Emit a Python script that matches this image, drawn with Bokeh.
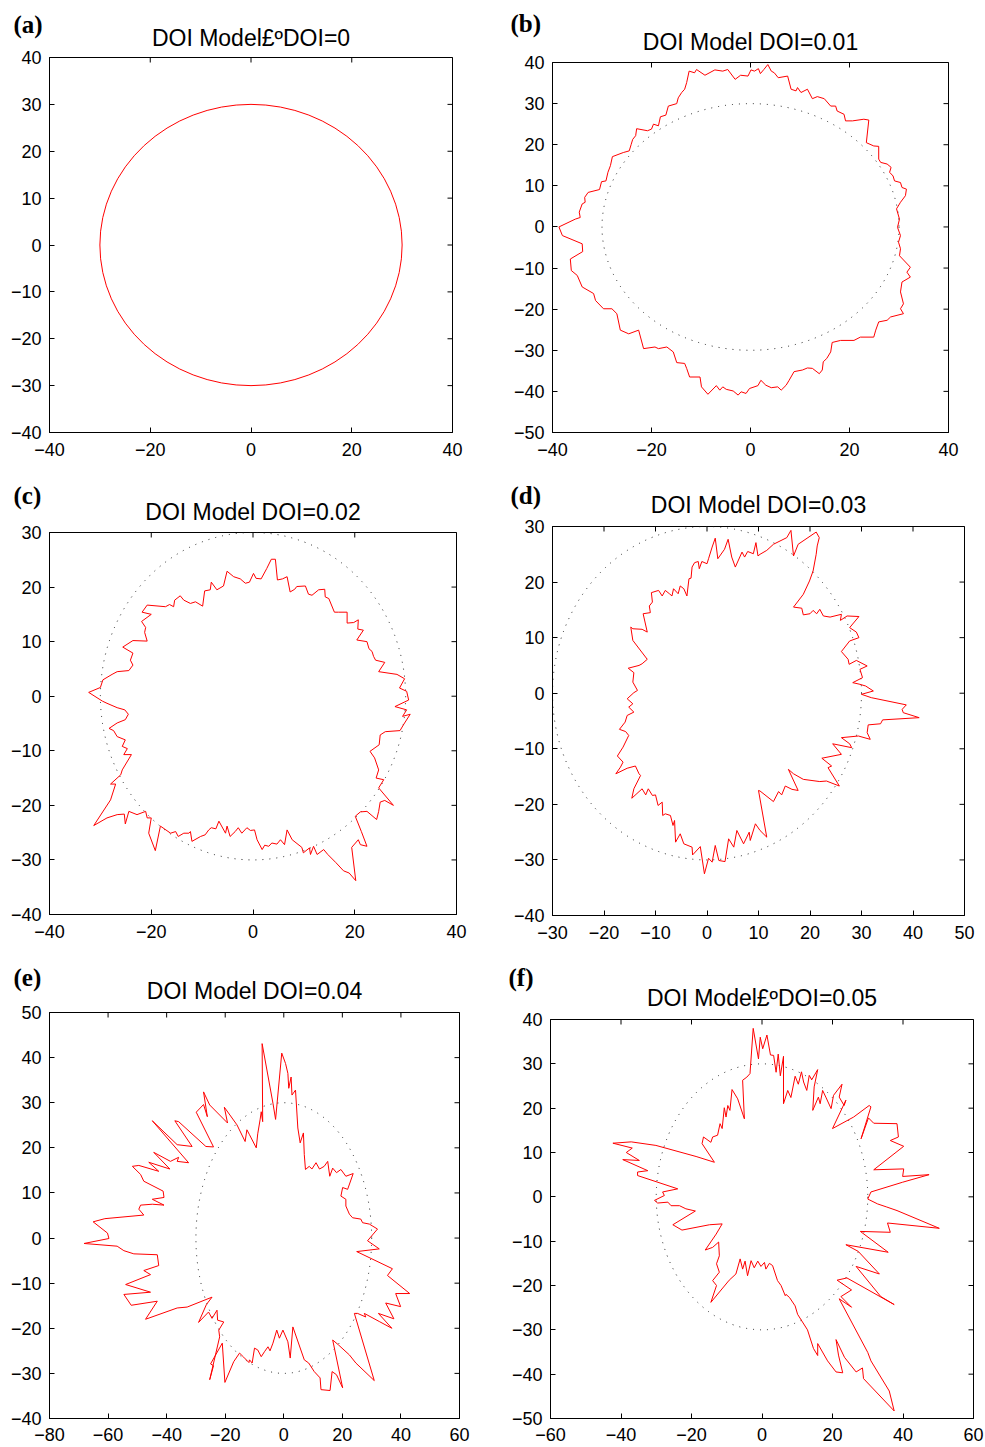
import math
from bokeh.plotting import figure
from bokeh.layouts import column, row
from bokeh.models import FixedTicker, Range1d, Title
from bokeh.embed import file_html
from bokeh.resources import INLINE

# ---------------- data ----------------
REF_RADIUS = 30  # reference circle (r = 30)

TITLES = ["DOI Model\u00a3\u00baDOI=0", "DOI Model DOI=0.01", "DOI Model DOI=0.02",
          "DOI Model DOI=0.03", "DOI Model DOI=0.04", "DOI Model\u00a3\u00baDOI=0.05"]
TAGS = ["(a)", "(b)", "(c)", "(d)", "(e)", "(f)"]

XTICKS_A = [-40, -20, 0, 20, 40]
YTICKS_A = [-40, -30, -20, -10, 0, 10, 20, 30, 40]
XTICKS_B = [-40, -20, 0, 20, 40]
YTICKS_B = [-50, -40, -30, -20, -10, 0, 10, 20, 30, 40]
XTICKS_C = [-40, -20, 0, 20, 40]
YTICKS_C = [-40, -30, -20, -10, 0, 10, 20, 30]
XTICKS_D = [-30, -20, -10, 0, 10, 20, 30, 40, 50]
YTICKS_D = [-40, -30, -20, -10, 0, 10, 20, 30]
XTICKS_E = [-80, -60, -40, -20, 0, 20, 40, 60]
YTICKS_E = [-40, -30, -20, -10, 0, 10, 20, 30, 40, 50]
XTICKS_F = [-60, -40, -20, 0, 20, 40, 60]
YTICKS_F = [-50, -40, -30, -20, -10, 0, 10, 20, 30, 40]

# DOI = 0.01
B_X = [-38.7, -35.4, -34.4, -34.6, -34.0, -33.4, -33.5, -32.8, -30.5, -30.1, -29.2, -28.8, -28.3, -27.9,
       -25.7, -24.5, -24.1, -23.8, -23.2, -23.0, -20.8, -20.0, -19.6, -18.6, -18.2, -17.1, -16.6, -14.9,
       -14.6, -13.9, -13.3, -12.9, -12.4, -11.3, -10.9, -9.2, -7.2, -5.6, -4.6, -3.1, -2.0, -0.5, 0.1,
       0.8, 1.6, 2.0, 2.7, 3.5, 4.2, 4.8, 5.6, 7.5, 8.2, 9.2, 9.5, 10.2, 11.5, 12.5, 13.5, 14.9, 16.2,
       17.2, 17.5, 18.9, 19.2, 20.6, 22.9, 23.9, 23.4, 24.9, 25.9, 25.9, 26.3, 27.6, 28.4, 28.1, 28.8,
       29.1, 30.3, 30.6, 31.5, 31.3, 30.3, 29.5, 30.1, 29.7, 30.3, 29.9, 30.3, 30.1, 32.3, 31.6, 32.3,
       30.6, 30.3, 30.9, 30.3, 30.9, 28.3, 27.6, 25.9, 25.3, 24.9, 22.2, 20.9, 18.2, 16.5, 16.2, 15.4,
       14.7, 14.5, 13.9, 12.5, 11.5, 10.5, 8.8, 7.8, 7.2, 6.2, 5.5, 4.2, 3.1, 2.1, 1.5, -0.2, -0.9, -1.9,
       -2.5, -3.5, -4.9, -5.6, -6.2, -6.9, -8.6, -9.9, -10.2, -12.3, -12.9, -13.3, -14.9, -15.6, -16.9,
       -18.6, -19.3, -21.6, -22.6, -24.6, -26.3, -27.0, -28.0, -29.7, -31.3, -31.7, -34.0, -35.0, -36.2,
       -36.4, -33.9, -34.0, -38.0]
B_Y = [0.0, 1.9, 2.3, 3.6, 5.6, 6.0, 7.2, 8.4, 9.1, 11.0, 11.2, 13.3, 14.9, 17.1, 18.1, 18.5, 20.1, 21.3,
       22.2, 23.9, 23.4, 23.8, 25.0, 24.6, 26.8, 27.2, 29.4, 30.0, 31.4, 32.7, 33.5, 35.1, 37.9, 37.5,
       38.3, 36.9, 38.2, 37.9, 38.3, 35.9, 36.9, 36.7, 38.2, 37.9, 38.5, 37.3, 38.3, 39.5, 37.9, 37.5,
       36.3, 36.7, 33.5, 33.1, 33.9, 32.7, 33.5, 31.2, 31.7, 31.2, 29.4, 29.4, 28.2, 27.4, 25.8, 25.8,
       26.2, 26.0, 20.5, 19.7, 19.6, 16.5, 15.7, 15.3, 14.5, 13.3, 12.4, 11.2, 10.8, 9.6, 9.2, 7.6, 6.0,
       4.4, 1.9, -0.1, -2.1, -3.7, -5.3, -7.0, -9.8, -11.0, -12.2, -13.4, -15.8, -18.7, -19.9, -21.1,
       -21.9, -22.7, -23.1, -25.1, -26.8, -26.8, -27.6, -27.6, -28.1, -30.4, -32.0, -32.8, -34.8, -35.7,
       -34.4, -34.3, -34.8, -35.2, -37.3, -38.5, -39.7, -38.9, -39.1, -38.5, -37.3, -38.6, -39.3, -40.5,
       -40.1, -40.9, -39.9, -39.5, -38.9, -39.7, -38.6, -40.7, -38.9, -36.5, -36.5, -34.4, -33.2, -33.0,
       -30.4, -29.2, -29.6, -29.2, -29.6, -25.1, -26.0, -25.1, -21.1, -19.9, -19.9, -17.9, -16.2, -14.6,
       -11.8, -10.6, -7.8, -6.0, -4.1, -2.1]

# DOI = 0.02
C_X = [-32.3, -30.0, -29.5, -27.7, -26.7, -24.4, -23.6, -24.1, -23.6, -25.6, -23.6, -20.8, -21.3, -21.1,
       -21.9, -20.0, -21.8, -20.8, -17.2, -16.4, -15.6, -15.4, -14.3, -13.6, -12.3, -11.3, -9.9, -9.5,
       -8.4, -8.2, -7.1, -5.8, -5.1, -3.8, -2.5, -1.5, -0.7, 0.1, 0.6, 1.6, 2.7, 3.6, 4.4, 4.8, 5.8, 6.7,
       7.3, 8.2, 8.6, 10.3, 10.9, 11.6, 12.9, 14.1, 14.2, 14.9, 16.0, 16.8, 18.5, 18.5, 19.8, 20.7, 20.6,
       21.7, 20.4, 22.4, 22.8, 23.4, 23.7, 24.1, 25.9, 24.7, 28.3, 29.8, 28.8, 30.2, 30.6, 27.9, 30.2,
       29.4, 30.9, 29.6, 28.9, 26.0, 25.0, 24.8, 23.0, 23.9, 24.7, 24.2, 25.7, 24.7, 27.6, 25.9, 25.0,
       24.7, 24.3, 22.4, 21.1, 20.1, 21.3, 22.4, 21.1, 20.7, 19.4, 20.2, 18.9, 17.8, 16.3, 14.7, 13.9,
       12.6, 11.9, 11.3, 11.1, 9.9, 9.6, 7.7, 6.7, 6.2, 5.4, 4.7, 3.7, 3.1, 2.3, 1.8, 0.8, 0.3, -0.5,
       -1.2, -1.6, -2.2, -2.9, -3.5, -4.5, -5.1, -5.4, -6.7, -7.3, -8.2, -8.7, -9.4, -10.3, -12.0, -12.3,
       -12.6, -13.6, -14.7, -15.2, -16.2, -18.2, -19.2, -20.5, -20.0, -20.8, -21.1, -22.8, -24.4, -25.1,
       -25.3, -26.7, -28.7, -31.3, -28.0, -27.0, -28.0, -26.0, -25.7, -23.9, -25.4, -24.7, -25.7, -25.1,
       -26.7, -27.4, -28.3, -26.7, -25.1, -24.5, -25.2, -26.7, -28.7, -29.6]
C_Y = [0.7, 1.6, 3.0, 4.0, 4.5, 4.7, 5.7, 6.6, 7.9, 9.0, 10.2, 10.1, 11.7, 12.6, 13.7, 15.0, 15.4, 16.7,
       16.4, 16.8, 16.4, 17.6, 18.4, 17.6, 17.0, 17.3, 16.5, 19.3, 19.5, 20.9, 19.5, 20.2, 22.9, 21.9,
       21.5, 20.7, 20.9, 22.5, 21.6, 21.5, 23.4, 25.1, 25.1, 21.3, 21.5, 21.9, 19.1, 19.6, 20.1, 20.2,
       18.7, 18.5, 19.5, 19.6, 18.2, 17.9, 15.4, 15.4, 15.4, 13.4, 13.5, 14.0, 12.3, 12.1, 10.3, 10.0,
       8.7, 8.2, 7.3, 6.6, 6.2, 4.5, 4.0, 3.2, 1.5, 0.9, -0.7, -1.9, -2.5, -3.7, -3.3, -5.2, -6.3, -6.5,
       -7.1, -8.9, -10.1, -11.3, -13.5, -15.0, -15.3, -16.8, -20.0, -19.1, -19.4, -21.1, -22.6, -21.1,
       -21.2, -22.0, -24.8, -27.5, -27.2, -26.3, -27.7, -33.8, -32.4, -32.0, -30.5, -29.0, -28.1, -29.0,
       -27.5, -29.0, -27.8, -28.7, -27.7, -26.3, -24.5, -27.2, -26.3, -27.1, -26.9, -27.5, -27.3, -28.1,
       -26.3, -24.5, -24.6, -24.1, -24.5, -25.1, -24.1, -24.8, -25.7, -23.8, -25.1, -22.9, -24.3, -24.1,
       -24.5, -25.4, -25.7, -26.6, -24.8, -25.1, -25.1, -25.7, -24.8, -25.1, -23.8, -28.3, -25.1, -22.3,
       -22.3, -21.1, -21.7, -21.1, -23.4, -21.6, -21.7, -22.3, -23.7, -19.0, -16.1, -16.1, -14.4, -13.5,
       -10.7, -10.7, -9.6, -9.2, -8.0, -7.4, -6.3, -5.9, -4.9, -4.3, -3.3, -2.5, -2.1, -1.3, -0.9]

# DOI = 0.03
D_X = [10.3, 12.9, 13.9, 14.5, 15.2, 16.5, 17.7, 15.8, 16.8, 18.7, 21.9, 23.2, 25.7, 23.5, 24.2, 22.3,
       26.1, 24.4, 28.1, 27.7, 26.1, 29.4, 31.7, 31.1, 31.3, 33.7, 34.1, 41.2, 38.1, 37.9, 38.7, 31.9,
       30.0, 32.3, 30.8, 29.7, 28.3, 30.2, 29.7, 31.1, 29.0, 27.6, 27.4, 26.1, 27.7, 29.5, 29.0, 27.7,
       29.5, 27.2, 25.9, 26.1, 23.9, 22.6, 21.9, 21.3, 20.6, 20.0, 18.7, 18.4, 16.8, 18.7, 19.9, 20.6,
       21.2, 21.4, 21.8, 21.2, 17.7, 16.8, 16.3, 15.5, 12.9, 11.6, 10.3, 9.9, 9.5, 9.0, 7.9, 7.3, 6.8,
       5.5, 4.8, 4.1, 3.4, 2.1, 1.6, 1.0, 0.3, 0.0, -1.0, -1.5, -1.7, -2.4, -2.9, -3.1, -3.5, -3.9, -4.5,
       -5.2, -5.6, -6.5, -6.8, -7.3, -8.1, -8.7, -9.4, -10.8, -10.6, -11.2, -11.0, -12.4, -11.6, -12.6,
       -14.4, -14.8, -14.4, -11.6, -12.6, -13.2, -15.3, -14.2, -14.4, -13.5, -14.2, -15.5, -14.4, -15.2,
       -14.2, -15.5, -15.9, -17.0, -15.8, -15.2, -16.3, -17.4, -16.3, -16.8, -17.7, -15.5, -13.9, -13.2,
       -12.9, -14.2, -14.6, -12.6, -11.9, -11.4, -10.6, -10.0, -9.5, -8.7, -8.6, -8.1, -7.1, -6.6, -6.3,
       -6.1, -5.2, -4.5, -2.9, -2.8, -1.3, -0.5, 0.3, 1.0, 1.6, 2.3, 3.5, 4.2, 5.2, 5.8, 7.1, 8.2, 8.4,
       9.4, 10.3, 11.6, 10.0]
D_Y = [-17.6, -19.5, -17.7, -18.3, -16.7, -17.3, -17.5, -13.7, -14.5, -15.5, -15.9, -15.8, -16.7, -13.4,
       -13.1, -11.7, -11.0, -9.1, -9.8, -9.1, -8.0, -7.7, -8.3, -7.1, -5.7, -5.5, -4.8, -4.4, -3.5, -2.9,
       -2.1, -0.8, -0.2, 0.4, 1.3, 1.6, 1.9, 2.8, 4.3, 4.9, 5.9, 5.2, 6.1, 7.5, 9.4, 10.0, 11.0, 11.8,
       13.8, 13.9, 13.1, 14.2, 13.7, 13.9, 15.1, 14.3, 14.9, 14.3, 14.1, 15.3, 15.5, 17.8, 20.2, 22.0,
       25.0, 26.5, 28.0, 29.0, 26.8, 24.7, 29.3, 28.0, 26.8, 25.7, 25.0, 24.7, 27.1, 25.1, 25.5, 24.5,
       25.4, 22.7, 24.5, 27.7, 25.9, 24.2, 27.9, 26.3, 24.2, 23.3, 23.7, 22.4, 23.7, 23.5, 22.7, 20.7,
       20.6, 17.5, 18.8, 19.3, 17.9, 18.8, 17.5, 17.9, 18.5, 17.5, 18.5, 18.1, 16.4, 15.7, 14.5, 14.3,
       11.0, 11.5, 11.6, 11.9, 9.5, 6.1, 5.3, 5.0, 4.5, 3.7, 2.0, 0.5, 0.1, -1.0, -1.9, -2.5, -3.4, -4.0,
       -5.2, -6.5, -6.9, -7.6, -9.7, -11.3, -12.4, -13.3, -14.5, -13.5, -13.1, -14.5, -14.8, -17.2,
       -18.9, -17.2, -18.3, -17.2, -18.4, -18.3, -20.2, -19.6, -22.0, -21.7, -22.0, -23.8, -22.9, -26.8,
       -25.3, -27.1, -27.7, -29.1, -27.6, -32.5, -29.7, -30.4, -27.4, -30.1, -30.3, -26.2, -27.7, -24.7,
       -27.1, -25.0, -26.5, -23.5, -24.7, -25.9, -17.5]

# DOI = 0.04
E_X = [-68.2, -59.7, -60.2, -65.1, -61.1, -47.8, -49.5, -48.9, -44.9, -40.9, -44.9, -40.9, -41.2, -47.8,
       -48.9, -51.7, -49.5, -42.7, -46.1, -38.9, -44.4, -38.7, -35.9, -36.4, -32.5, -44.9, -36.4, -31.3,
       -37.2, -35.9, -26.6, -24.0, -29.9, -27.4, -26.1, -27.4, -25.3, -19.2, -20.3, -16.0, -13.2, -12.6,
       -11.7, -9.4, -8.9, -8.1, -7.7, -7.2, -7.4, -3.7, -2.8, -0.7, 0.6, 1.4, 1.7, 2.5, 2.8, 4.0, 4.8,
       5.6, 6.7, 7.0, 7.4, 8.7, 9.6, 11.0, 12.2, 13.8, 15.0, 15.7, 16.7, 18.0, 19.5, 21.2, 23.7, 21.8,
       20.1, 19.5, 21.2, 21.2, 22.4, 23.5, 26.3, 26.9, 29.2, 32.0, 28.6, 32.6, 24.9, 37.1, 35.4, 43.0,
       38.2, 39.9, 34.8, 37.6, 32.3, 36.9, 32.6, 27.5, 28.0, 25.2, 24.1, 30.9, 24.6, 22.4, 18.7, 16.7,
       20.1, 18.0, 16.5, 15.8, 12.7, 12.4, 10.4, 8.5, 7.0, 3.1, 2.2, 1.4, -0.3, -1.5, -2.4, -3.7, -4.7,
       -5.4, -6.6, -7.7, -8.9, -10.0, -10.8, -11.7, -11.9, -13.7, -15.1, -17.1, -20.1, -21.0, -25.0,
       -24.0, -25.3, -21.9, -22.2, -20.5, -22.6, -22.8, -24.5, -25.7, -29.1, -26.4, -24.5, -33.0, -36.4,
       -47.2, -43.2, -52.1, -54.6, -45.5, -54.0, -45.5, -47.8, -42.7, -43.2, -51.2, -54.6, -56.9]
E_Y = [-1.2, -0.1, 1.1, 3.6, 4.3, 5.1, 6.4, 7.3, 7.5, 7.3, 8.6, 9.0, 10.4, 12.6, 14.1, 15.9, 16.1, 14.8,
       16.8, 15.3, 19.0, 17.0, 17.9, 17.0, 16.7, 26.0, 20.7, 20.3, 26.0, 25.8, 20.3, 20.2, 27.9, 29.6,
       26.9, 32.4, 29.5, 25.5, 29.0, 25.1, 21.4, 24.0, 22.9, 20.0, 23.1, 26.2, 28.0, 25.8, 43.1, 29.9,
       26.3, 41.0, 38.7, 36.5, 33.2, 35.7, 31.7, 32.8, 24.4, 21.1, 23.3, 18.5, 15.2, 15.9, 15.3, 16.7,
       15.3, 15.9, 17.0, 13.7, 15.5, 14.5, 15.2, 13.7, 14.3, 10.8, 11.2, 9.3, 8.6, 7.1, 5.3, 4.5, 4.2,
       3.4, 3.1, 2.0, -0.6, -2.4, -3.0, -6.8, -8.3, -12.3, -12.3, -15.2, -14.4, -17.9, -16.7, -20.0,
       -18.5, -16.7, -17.5, -16.7, -16.7, -31.6, -27.7, -25.9, -23.7, -22.6, -33.2, -30.3, -29.6, -33.8,
       -33.6, -31.0, -29.6, -27.7, -27.0, -19.7, -26.6, -23.0, -20.4, -22.2, -20.4, -23.3, -25.0, -24.1,
       -25.2, -26.3, -24.8, -24.4, -27.7, -27.0, -27.6, -26.4, -25.5, -27.4, -32.0, -23.3, -27.9, -28.3,
       -31.4, -21.9, -20.4, -18.6, -18.2, -16.0, -17.8, -16.4, -18.7, -14.7, -13.1, -15.3, -15.5, -18.0,
       -14.0, -14.9, -12.5, -12.0, -10.3, -8.1, -7.2, -6.1, -3.7, -3.5, -2.8, -1.8]

# DOI = 0.05
F_X = [-2.5, -1.0, -0.5, 0.2, 1.4, 2.4, 3.3, 4.0, 4.6, 5.2, 6.1, 6.1, 7.3, 8.2, 9.4, 10.3, 11.2, 11.8,
       12.7, 13.4, 14.1, 15.8, 14.8, 14.4, 16.0, 16.5, 17.2, 18.1, 19.6, 20.3, 22.7, 21.9, 23.3, 23.8,
       20.0, 26.0, 30.4, 30.9, 28.1, 30.2, 31.7, 38.3, 38.7, 36.4, 40.2, 31.7, 40.2, 39.9, 47.4, 39.9,
       30.9, 30.0, 32.8, 35.4, 38.3, 50.3, 35.6, 36.4, 27.9, 35.8, 23.8, 27.3, 33.3, 26.7, 33.7, 37.5,
       24.1, 21.3, 25.4, 22.4, 25.4, 21.9, 30.0, 30.9, 36.1, 37.5, 28.8, 28.5, 26.7, 23.4, 21.0, 21.7,
       22.9, 21.0, 18.6, 15.8, 15.8, 14.6, 12.9, 10.1, 9.4, 7.8, 6.8, 6.6, 5.4, 4.4, 3.0, 2.1, 1.1, 0.7,
       -0.3, -1.2, -2.2, -3.1, -4.1, -4.8, -5.5, -6.2, -7.4, -9.3, -14.5, -12.9, -14.0, -12.1, -12.9,
       -12.1, -12.3, -14.0, -16.1, -13.0, -11.3, -14.9, -22.7, -25.3, -18.9, -21.6, -23.4, -25.8, -26.7,
       -29.6, -30.5, -27.7, -28.2, -23.9, -35.3, -35.3, -32.4, -39.5, -34.8, -38.5, -36.8, -42.3, -37.1,
       -30.1, -18.7, -13.5, -17.0, -16.6, -14.5, -14.0, -12.6, -11.9, -11.3, -10.7, -10.2, -9.7, -9.1,
       -8.5, -6.9, -5.0, -5.5, -4.3, -3.4]
F_Y = [38.0, 31.1, 36.0, 33.4, 36.5, 32.0, 31.9, 28.1, 32.2, 27.3, 31.7, 21.0, 24.0, 22.4, 27.2, 25.4,
       28.2, 25.9, 24.0, 27.4, 26.4, 28.7, 24.8, 19.5, 22.5, 21.0, 24.0, 22.5, 19.9, 22.9, 25.4, 22.5,
       20.6, 21.8, 15.4, 18.0, 20.6, 20.3, 13.1, 17.8, 16.6, 16.5, 13.5, 12.7, 11.4, 6.1, 6.3, 4.6, 5.0,
       3.3, 1.1, -0.5, -1.6, -2.3, -3.1, -7.1, -5.9, -8.0, -7.8, -12.5, -10.8, -12.3, -17.4, -15.7, -22.5,
       -24.3, -18.3, -18.8, -21.0, -22.5, -24.9, -23.0, -35.1, -37.0, -43.8, -48.3, -41.0, -38.6, -39.5,
       -36.2, -32.2, -35.7, -39.7, -39.5, -37.0, -33.1, -35.8, -34.2, -30.0, -26.5, -24.6, -22.7, -22.0,
       -22.3, -20.0, -18.9, -15.5, -15.0, -16.3, -14.8, -15.7, -14.5, -16.0, -14.4, -17.8, -14.5, -16.3,
       -14.0, -17.4, -18.8, -23.8, -20.0, -18.9, -17.0, -15.1, -13.3, -10.2, -11.4, -12.0, -8.4, -6.1,
       -6.3, -7.5, -6.3, -3.2, -2.7, -2.0, -2.0, -1.2, -1.4, -0.8, 0.3, 1.1, 1.8, 4.8, 5.6, 5.9, 8.4, 8.2,
       10.0, 11.0, 12.1, 12.4, 11.6, 9.1, 7.8, 12.0, 13.5, 12.3, 13.5, 13.9, 16.5, 15.4, 20.1, 18.0, 20.6,
       19.5, 24.2, 22.1, 17.6, 26.3, 27.0, 27.8]

FONT = "Liberation Sans"


def fmt(v):
    return ("\u2212" + str(abs(v))) if v < 0 else str(v)


def style_axis(ax, ticks, standoff):
    ax.ticker = FixedTicker(ticks=ticks, minor_ticks=[])
    ax.major_tick_in = 5
    ax.major_tick_out = 0
    ax.minor_tick_in = 0
    ax.minor_tick_out = 0
    ax.axis_line_color = "black"
    ax.major_tick_line_color = "black"
    ax.major_label_overrides = {t: fmt(t) for t in ticks}
    ax.major_label_text_font = FONT
    ax.major_label_text_font_size = "18px"
    ax.major_label_text_color = "black"
    ax.major_label_standoff = standoff


def panel(width, height, borders, xr, yr, xt, yt, title, tag, tag_offset, title_standoff,
          tag_standoff, x_standoff, xs=None, ys=None, circle_only=False):
    left, right, top, bottom = borders
    p = figure(width=width, height=height, x_range=Range1d(*xr), y_range=Range1d(*yr),
               output_backend="svg", toolbar_location=None, title_location=None,
               min_border_left=left, min_border_right=right,
               min_border_top=top, min_border_bottom=bottom)
    p.grid.visible = False
    p.outline_line_color = "black"
    p.outline_line_width = 1
    p.background_fill_color = "white"
    p.border_fill_color = "white"
    style_axis(p.xaxis[0], xt, x_standoff)
    style_axis(p.yaxis[0], yt, 8)

    # mirrored inward ticks on the top and right edges (half of each dash is clipped by the frame)
    p.scatter(x=xt, y=[yr[1]] * len(xt), marker="dash", size=10, angle=math.pi / 2,
              line_color="black", line_width=1)
    p.scatter(x=[xr[1]] * len(yt), y=yt, marker="dash", size=10,
              line_color="black", line_width=1)

    main_title = Title(text=title, align="center", text_font=FONT, text_font_size="23px",
                       text_font_style="normal", text_color="black", standoff=title_standoff)
    p.add_layout(main_title, "above")
    tag_title = Title(text=tag, align="left", offset=tag_offset, text_font="Liberation Serif",
                      text_font_size="25px", text_font_style="bold", text_color="black",
                      standoff=tag_standoff)
    p.add_layout(tag_title, "above")

    if circle_only:
        p.ellipse(x=[0], y=[0], width=[2 * REF_RADIUS], height=[2 * REF_RADIUS],
                  fill_color=None, line_color="red", line_width=1)
    else:
        p.ellipse(x=[0], y=[0], width=[2 * REF_RADIUS], height=[2 * REF_RADIUS],
                  fill_color=None, line_color="#222222", line_width=1, line_dash="1 6")
        p.line(list(xs) + [xs[0]], list(ys) + [ys[0]], line_color="red", line_width=1)
    return p


pa = panel(490, 470, (49, 38, 57, 38), (-40, 40), (-40, 40), XTICKS_A, YTICKS_A,
           TITLES[0], TAGS[0], -36, 12.3, -41.7, 10, circle_only=True)
pb = panel(495, 470, (62, 37, 62, 38), (-40, 40), (-50, 40), XTICKS_B, YTICKS_B,
           TITLES[1], TAGS[1], -42, 14.3, -33.7, 10, B_X, B_Y)
pc = panel(490, 485, (49, 34, 62, 41), (-40, 40), (-40, 30), XTICKS_C, YTICKS_C,
           TITLES[2], TAGS[2], -36, 14.3, -37.7, 10, C_X, C_Y)
pd = panel(495, 485, (62, 21, 56, 40), (-30, 50), (-40, 30), XTICKS_D, YTICKS_D,
           TITLES[3], TAGS[3], -42, 16.3, -53.7, 10, D_X, D_Y)
pe = panel(490, 492, (49, 31, 57, 29), (-80, 60), (-40, 50), XTICKS_E, YTICKS_E,
           TITLES[4], TAGS[4], -36, 16.3, -45.7, 9, E_X, E_Y)
pf = panel(495, 492, (60, 12, 64, 29), (-60, 60), (-50, 40), XTICKS_F, YTICKS_F,
           TITLES[5], TAGS[5], -42, 16.3, -31.7, 9, F_X, F_Y)

layout = column(row(column(pa), column(pb)),
                row(column(pc), column(pd)),
                row(column(pe), column(pf)))

with open("out.html", "w") as fh:
    fh.write(file_html(layout, INLINE))
